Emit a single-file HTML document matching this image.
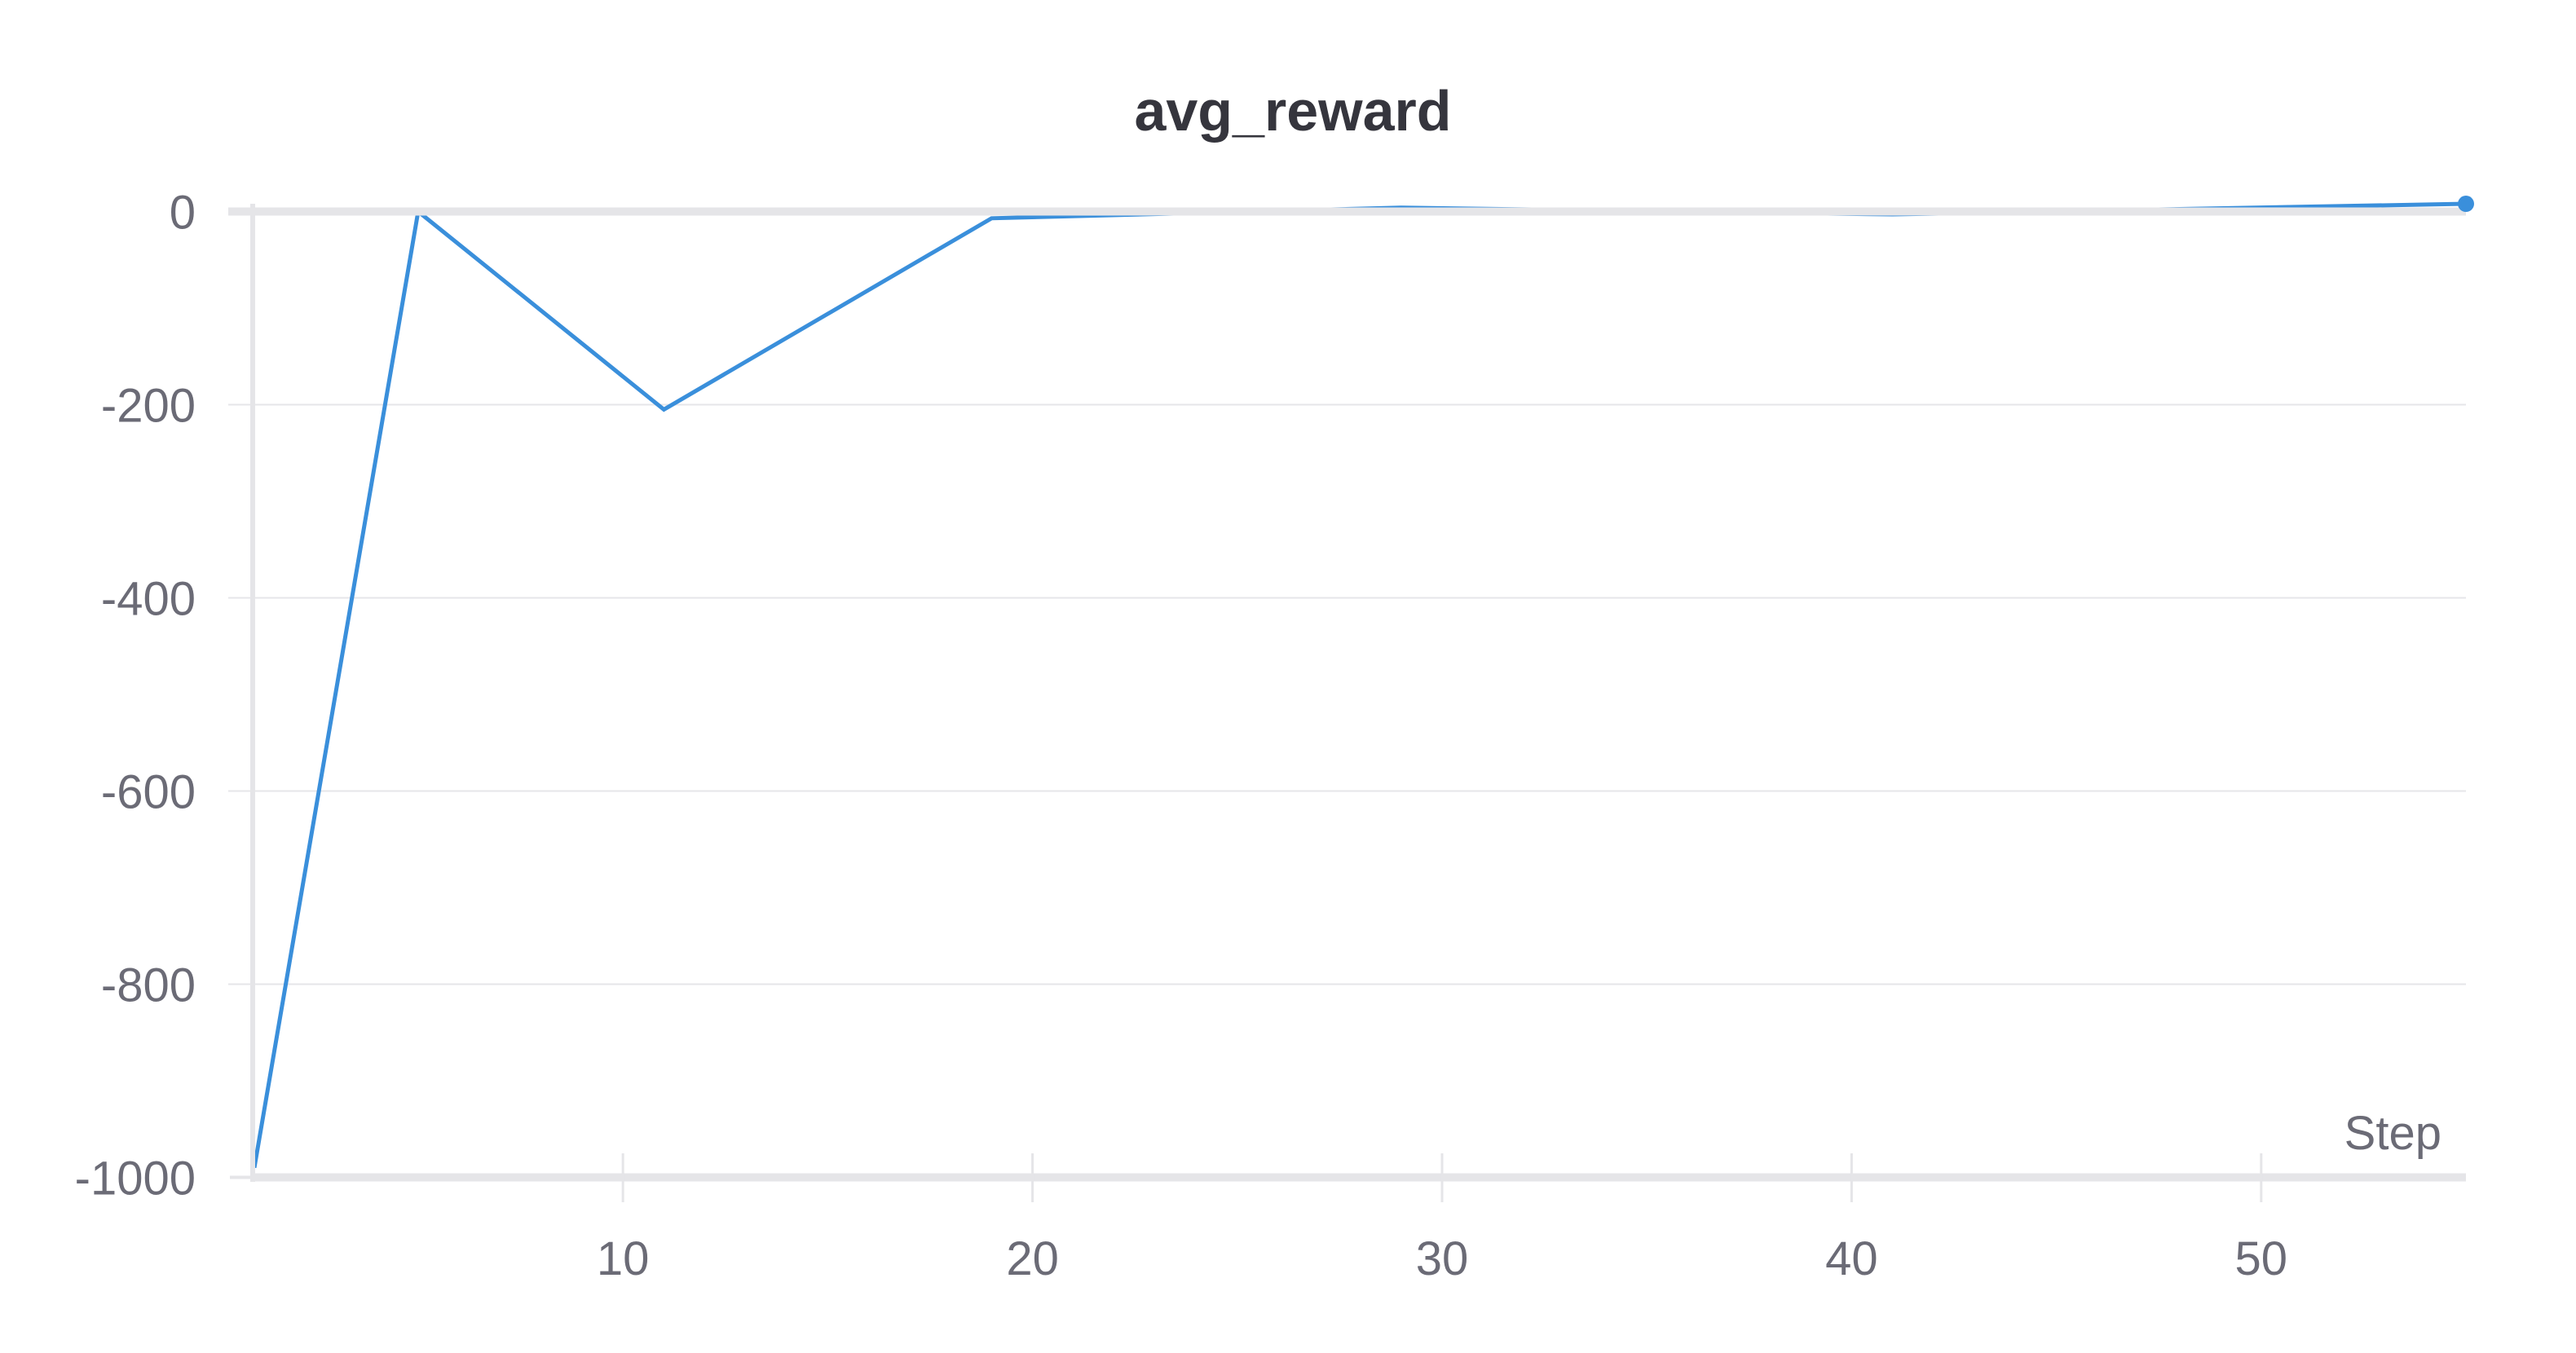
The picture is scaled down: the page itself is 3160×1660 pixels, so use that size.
<!DOCTYPE html>
<html><head><meta charset="utf-8"><style>
html,body{margin:0;padding:0;background:#fff;}
svg{display:block;}
text{font-family:"Liberation Sans",sans-serif;fill:#6b6b76;}
</style></head><body>
<svg id="chart" width="3160" height="1660" viewBox="0 0 3160 1660">
<text x="1586" y="160" text-anchor="middle" font-size="70" font-weight="bold" style="fill:#35353d">avg_reward</text>
<g id="grid"></g>
<g id="series"></g>
<g id="axes"></g>
</svg>
<script>
const steps = [1, 5, 11, 19, 29, 41, 55];
const rewards = [-990, 0, -205, -7, 4, -3, 8];
const yTicks = [0, -200, -400, -600, -800, -1000];
const yTickLabels = ["0", "-200", "-400", "-600", "-800", "-1000"];
const xTicks = [10, 20, 30, 40, 50];
const xTickLabels = ["10", "20", "30", "40", "50"];

const NS = "http://www.w3.org/2000/svg";
const X0 = 312, X1 = 3025, Y0 = 259.5, Y1 = 1444.5;
function xs(s){ return X0 + (s - 1) / (55 - 1) * (X1 - X0); }
function ys(v){ return Y0 + (0 - v) / 1000 * (Y1 - Y0); }
function mk(tag, attrs, parent){
  const e = document.createElementNS(NS, tag);
  for (const k in attrs) e.setAttribute(k, attrs[k]);
  parent.appendChild(e);
  return e;
}
const grid = document.getElementById('grid');
const series = document.getElementById('series');
const axes = document.getElementById('axes');

yTicks.forEach((v, i) => {
  const y = ys(v);
  if (v !== 0 && v !== -1000) {
    const g = mk('line', {x1: 280, x2: X1, y1: y, y2: y, stroke: '#e6e6e9', 'stroke-width': 2}, grid);
    
    
  }
  const t = mk('text', {x: 240, y: y + 21, 'text-anchor': 'end', 'font-size': 58}, axes);
  t.textContent = yTickLabels[i];
  
  
});

const pts = steps.map((s, i) => xs(s) + ',' + ys(rewards[i])).join(' ');
const line = mk('polyline', {points: pts, fill: 'none', stroke: '#3a8fdb', 'stroke-width': 5, 'stroke-linejoin': 'miter'}, series);



const za = mk('line', {x1: 280, x2: X1, y1: Y0, y2: Y0, stroke: '#e5e5e8', 'stroke-width': 10}, axes);


const ya = mk('line', {x1: 310, x2: 310, y1: 250, y2: 1450, stroke: '#e5e5e8', 'stroke-width': 6}, axes);


const xa = mk('line', {x1: 312, x2: X1, y1: Y1, y2: Y1, stroke: '#e5e5e8', 'stroke-width': 10}, axes);


const ys1 = mk('line', {x1: 282, x2: 312, y1: Y1, y2: Y1, stroke: '#e5e5e8', 'stroke-width': 4}, axes);



xTicks.forEach((s, i) => {
  const x = xs(s);
  const tk = mk('line', {x1: x, x2: x, y1: 1415, y2: 1475, stroke: '#e5e5e8', 'stroke-width': 3}, axes);
  
  
  const t = mk('text', {x: x, y: 1564, 'text-anchor': 'middle', 'font-size': 58}, axes);
  t.textContent = xTickLabels[i];
  
  
});

const st = mk('text', {x: 2995, y: 1410, 'text-anchor': 'end', 'font-size': 58}, axes);
st.textContent = 'Step';



const last = steps.length - 1;
const dot = mk('circle', {cx: xs(steps[last]), cy: ys(rewards[last]), r: 10, fill: '#3a8fdb'}, axes);


</script>
</body></html>
